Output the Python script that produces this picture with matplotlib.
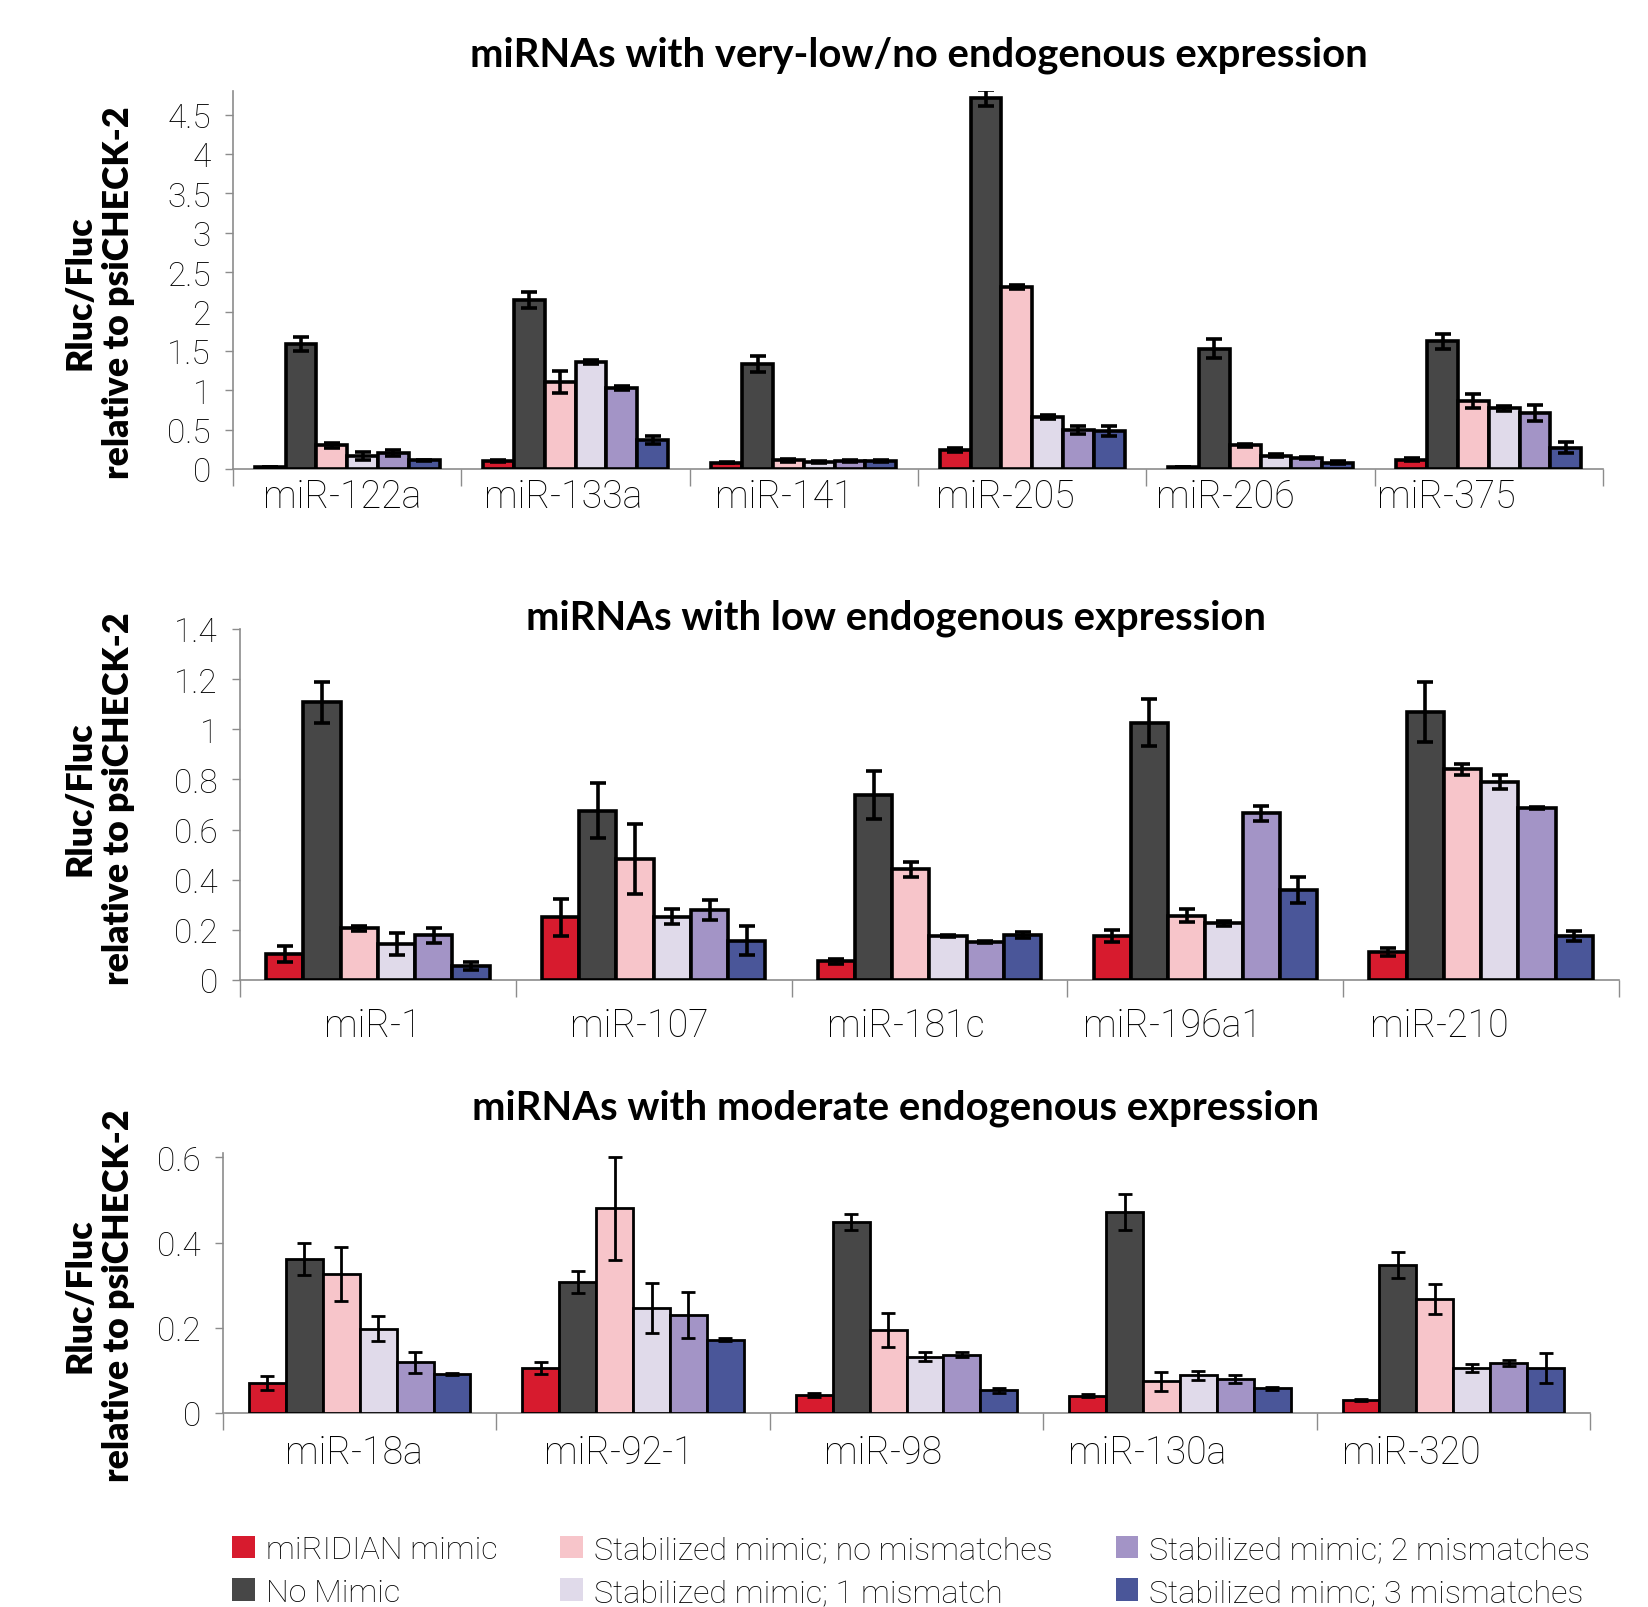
import matplotlib.pyplot as plt
import numpy as np
from matplotlib import font_manager
from matplotlib.patches import Patch


def pick_font(names):
    have = {f.name for f in font_manager.fontManager.ttflist}
    return [n for n in names if n in have] + ["DejaVu Sans"]


LIGHT = pick_font(["Roboto", "Liberation Sans"])
BOLD = pick_font(["Lato", "Noto Sans"])

series = [
    "miRIDIAN mimic",
    "No Mimic",
    "Stabilized mimic; no mismatches",
    "Stabilized mimic; 1 mismatch",
    "Stabilized mimic; 2 mismatches",
    "Stabilized mimc; 3 mismatches",
]
colors = ["#d71b2e", "#474747", "#f7c5ca", "#e0daea", "#a394c6", "#4a5699"]

# very-low / no endogenous expression
vlow_names = ["miR-122a", "miR-133a", "miR-141", "miR-205", "miR-206", "miR-375"]
vlow_mean = [
    [0.03, 1.59, 0.30, 0.16, 0.20, 0.11],
    [0.10, 2.15, 1.10, 1.36, 1.03, 0.37],
    [0.08, 1.33, 0.11, 0.09, 0.10, 0.10],
    [0.24, 4.71, 2.31, 0.66, 0.50, 0.48],
    [0.03, 1.53, 0.30, 0.17, 0.14, 0.08],
    [0.12, 1.62, 0.86, 0.77, 0.71, 0.27],
]
vlow_err = [
    [0.00, 0.09, 0.03, 0.05, 0.04, 0.01],
    [0.01, 0.10, 0.14, 0.03, 0.03, 0.05],
    [0.01, 0.10, 0.02, 0.01, 0.01, 0.01],
    [0.03, 0.10, 0.03, 0.02, 0.05, 0.06],
    [0.00, 0.12, 0.02, 0.02, 0.01, 0.02],
    [0.02, 0.10, 0.09, 0.03, 0.10, 0.07],
]

# low endogenous expression
low_names = ["miR-1", "miR-107", "miR-181c", "miR-196a1", "miR-210"]
low_mean = [
    [0.103, 1.107, 0.207, 0.145, 0.178, 0.055],
    [0.250, 0.675, 0.484, 0.253, 0.280, 0.156],
    [0.075, 0.738, 0.442, 0.175, 0.152, 0.178],
    [0.175, 1.026, 0.257, 0.227, 0.666, 0.359],
    [0.112, 1.068, 0.841, 0.790, 0.686, 0.175],
]
low_err = [
    [0.032, 0.080, 0.010, 0.044, 0.030, 0.015],
    [0.075, 0.110, 0.140, 0.030, 0.040, 0.058],
    [0.010, 0.094, 0.030, 0.003, 0.005, 0.012],
    [0.025, 0.094, 0.025, 0.010, 0.030, 0.050],
    [0.015, 0.120, 0.022, 0.027, 0.004, 0.020],
]

# moderate endogenous expression
mod_names = ["miR-18a", "miR-92-1", "miR-98", "miR-130a", "miR-320"]
mod_mean = [
    [0.070, 0.361, 0.326, 0.198, 0.119, 0.092],
    [0.106, 0.307, 0.480, 0.246, 0.229, 0.172],
    [0.042, 0.449, 0.194, 0.132, 0.137, 0.053],
    [0.041, 0.472, 0.074, 0.088, 0.080, 0.058],
    [0.031, 0.347, 0.268, 0.106, 0.118, 0.106],
]
mod_err = [
    [0.016, 0.038, 0.063, 0.029, 0.025, 0.003],
    [0.014, 0.025, 0.120, 0.058, 0.054, 0.004],
    [0.004, 0.019, 0.040, 0.010, 0.005, 0.006],
    [0.004, 0.042, 0.022, 0.011, 0.010, 0.004],
    [0.003, 0.030, 0.035, 0.010, 0.007, 0.035],
]

W, H = 1648, 1608
fig = plt.figure(figsize=(W / 100, H / 100), dpi=100)


def panel(rect, names, mean, err, yticks, ymax, edge_lw, err_lw, capsize, label_pad):
    ax = fig.add_axes(rect)
    mean = np.array(mean)
    err = np.array(err)
    n = len(names)
    group = 0.81
    bw = group / 6
    for j in range(6):
        x = np.arange(n) + 0.5 - group / 2 + bw * (j + 0.5)
        ax.bar(
            x, mean[:, j], width=bw, color=colors[j], edgecolor="black",
            linewidth=edge_lw, zorder=3, yerr=err[:, j],
            error_kw=dict(ecolor="black", elinewidth=err_lw, capsize=capsize,
                          capthick=err_lw, zorder=4),
        )
    ax.set_xlim(0, n)
    ax.set_ylim(0, ymax)
    ax.set_yticks(yticks)
    ax.set_yticklabels([f"{v:g}" for v in yticks], family=LIGHT,
                       fontweight="light", fontsize=24, color="black")
    ax.set_xticks(np.arange(n + 1))
    ax.set_xticklabels([])
    # category names sit slightly left of the group centres, as in the original
    ax.set_xticks(0.48 + 0.967 * np.arange(n), minor=True)
    ax.set_xticklabels(names, minor=True, family=LIGHT, fontweight="light",
                       fontsize=27, color="black")
    ax.tick_params(axis="x", which="major", length=12, width=1, color="#8c8c8c",
                   direction="out")
    ax.tick_params(axis="x", which="minor", length=0, pad=label_pad)
    ax.tick_params(axis="y", length=6, width=1, color="#8c8c8c", pad=10)
    for s in ["top", "right"]:
        ax.spines[s].set_visible(False)
    for s in ["left", "bottom"]:
        ax.spines[s].set_color("#8c8c8c")
        ax.spines[s].set_linewidth(1.2)
    return ax


def frac_rect(left, right, bottom, top):
    return [left / W, 1 - bottom / H, (right - left) / W, (bottom - top) / H]


panel(frac_rect(233, 1603, 470, 92), vlow_names, vlow_mean, vlow_err,
      np.arange(0, 4.51, 0.5), 4.8, 2.6, 2.6, 6, 6)
panel(frac_rect(240, 1619, 981, 630), low_names, low_mean, low_err,
      np.round(np.arange(0, 1.41, 0.2), 1), 1.4, 2.6, 2.6, 6, 19)
panel(frac_rect(223, 1590, 1414, 1154), mod_names, mod_mean, mod_err,
      np.round(np.arange(0, 0.61, 0.2), 1), 0.61, 2.0, 2.0, 5, 15)

titles = [
    ("miRNAs with very-low/no endogenous expression", 919, 55),
    ("miRNAs with low endogenous expression", 896, 618),
    ("miRNAs with moderate endogenous expression", 896, 1108),
]
for text, x, y in titles:
    fig.text(x / W, 1 - y / H, text, ha="center", va="center",
             family=BOLD, fontweight="bold", fontsize=28.8)

for y in [293, 799, 1296]:
    fig.text(99 / W, 1 - y / H, "Rluc/Fluc\nrelative to psiCHECK-2",
             rotation=90, ha="center", va="center", multialignment="center",
             family=BOLD, fontweight="heavy", fontsize=25.7, linespacing=1.2)

handles = [Patch(facecolor=c, edgecolor="none") for c in colors]
fig.legend(handles, series, loc="lower left", bbox_to_anchor=(0.133, -0.008),
           ncol=3, frameon=False, prop=dict(family=LIGHT, weight="light", size=23.2),
           handlelength=0.7, handleheight=0.7, handletextpad=0.35,
           columnspacing=1.95, labelspacing=0.42, borderaxespad=0.0)

fig.savefig("out.png", dpi=100)
